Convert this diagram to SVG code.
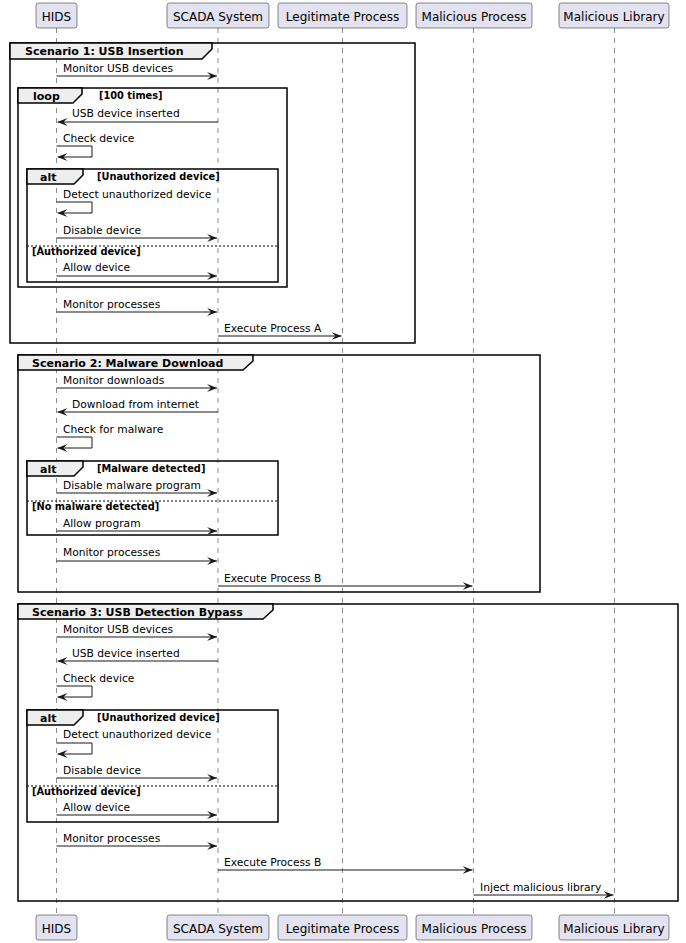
<svg xmlns="http://www.w3.org/2000/svg" width="686" height="943" viewBox="0 0 686 943">
<style>
text{font-family:"DejaVu Sans","Verdana",sans-serif;fill:#000}
.p{font-size:12px;text-anchor:middle}
.m{font-size:10.7px}
.fl{font-size:11px;font-weight:bold}
.g{font-size:9.8px;font-weight:bold}
.box{fill:#E2E2F0;stroke:#181818;stroke-width:0.5}
.life{stroke:#181818;stroke-width:0.5;stroke-dasharray:5,5}
.frame{fill:none;stroke:#000;stroke-width:1.5}
.tab{fill:#EEEEEE;stroke:#000;stroke-width:1.5}
.sep{stroke:#000;stroke-width:1;stroke-dasharray:2,2}
.msg{fill:none;stroke:#181818;stroke-width:1;marker-end:url(#ah)}
</style>
<defs>
<marker id="ah" viewBox="0 0 10 8" refX="10" refY="4" markerUnits="userSpaceOnUse" markerWidth="10" markerHeight="8" orient="auto">
<path d="M0,0 L10,4 L0,8 L4,4 Z" fill="#181818"/>
</marker>
</defs>
<g id="lifelines">
<line class="life" x1="56.5" y1="28" x2="56.5" y2="915"/>
<line class="life" x1="218" y1="28" x2="218" y2="915"/>
<line class="life" x1="342.5" y1="28" x2="342.5" y2="915"/>
<line class="life" x1="473.5" y1="28" x2="473.5" y2="915"/>
<line class="life" x1="614.5" y1="28" x2="614.5" y2="915"/>
</g>
<g id="p-hids-top"><rect class="box" x="36" y="3" width="41" height="25" rx="2.5"/><text class="p" x="56.5" y="20.5">HIDS</text></g>
<g id="p-scada-top"><rect class="box" x="167" y="3" width="102" height="25" rx="2.5"/><text class="p" x="218" y="20.5">SCADA System</text></g>
<g id="p-legit-top"><rect class="box" x="278" y="3" width="129" height="25" rx="2.5"/><text class="p" x="342.5" y="20.5">Legitimate Process</text></g>
<g id="p-malproc-top"><rect class="box" x="416" y="3" width="116" height="25" rx="2.5"/><text class="p" x="474" y="20.5">Malicious Process</text></g>
<g id="p-mallib-top"><rect class="box" x="559" y="3" width="110" height="25" rx="2.5"/><text class="p" x="614" y="20.5">Malicious Library</text></g>
<g id="p-hids-bottom"><rect class="box" x="36" y="915" width="41" height="25" rx="2.5"/><text class="p" x="56.5" y="932.5">HIDS</text></g>
<g id="p-scada-bottom"><rect class="box" x="167" y="915" width="102" height="25" rx="2.5"/><text class="p" x="218" y="932.5">SCADA System</text></g>
<g id="p-legit-bottom"><rect class="box" x="278" y="915" width="129" height="25" rx="2.5"/><text class="p" x="342.5" y="932.5">Legitimate Process</text></g>
<g id="p-malproc-bottom"><rect class="box" x="416" y="915" width="116" height="25" rx="2.5"/><text class="p" x="474" y="932.5">Malicious Process</text></g>
<g id="p-mallib-bottom"><rect class="box" x="559" y="915" width="110" height="25" rx="2.5"/><text class="p" x="614" y="932.5">Malicious Library</text></g>
<g id="frame-s1">
<rect class="frame" x="10" y="43" width="405" height="300"/>
<path class="tab" d="M10,43 H212 V49 L202,59 H10 Z"/>
<text class="fl" x="25" y="55">Scenario 1: USB Insertion</text>
</g>
<g id="frame-s1-loop">
<rect class="frame" x="18" y="88" width="269" height="199"/>
<path class="tab" d="M18,88 H82 V94 L73,103 H18 Z"/>
<text class="fl" x="33" y="100">loop</text>
<text class="g" x="99" y="99">[100 times]</text>
</g>
<g id="frame-s1-alt">
<rect class="frame" x="27" y="169" width="251" height="113"/>
<path class="tab" d="M27,169 H83 V175 L74,184 H27 Z"/>
<text class="fl" x="40" y="181">alt</text>
<text class="g" x="97" y="180">[Unauthorized device]</text>
<line class="sep" x1="27" y1="246" x2="278" y2="246"/>
<text class="g" x="32" y="255">[Authorized device]</text>
</g>
<g id="frame-s2">
<rect class="frame" x="18" y="355" width="522" height="237"/>
<path class="tab" d="M18,355 H253 V361 L243,370 H18 Z"/>
<text class="fl" x="32" y="367">Scenario 2: Malware Download</text>
</g>
<g id="frame-s2-alt">
<rect class="frame" x="27" y="461" width="251" height="74"/>
<path class="tab" d="M27,461 H83 V467 L74,476 H27 Z"/>
<text class="fl" x="40" y="473">alt</text>
<text class="g" x="97" y="472">[Malware detected]</text>
<line class="sep" x1="27" y1="501" x2="278" y2="501"/>
<text class="g" x="32" y="510">[No malware detected]</text>
</g>
<g id="frame-s3">
<rect class="frame" x="18" y="604" width="660" height="297"/>
<path class="tab" d="M18,604 H273 V610 L263,619 H18 Z"/>
<text class="fl" x="32" y="616">Scenario 3: USB Detection Bypass</text>
</g>
<g id="frame-s3-alt">
<rect class="frame" x="27" y="710" width="251" height="112"/>
<path class="tab" d="M27,710 H83 V716 L74,725 H27 Z"/>
<text class="fl" x="40" y="722">alt</text>
<text class="g" x="97" y="721">[Unauthorized device]</text>
<line class="sep" x1="27" y1="786" x2="278" y2="786"/>
<text class="g" x="32" y="795">[Authorized device]</text>
</g>
<g id="connectors">
<path class="msg" d="M56.5,76 H217"/><text class="m" x="63" y="72">Monitor USB devices</text>
<path class="msg" d="M218,122 H57.5"/><text class="m" x="72" y="117">USB device inserted</text>
<path class="msg" d="M56.5,146 H92 V157 H57.5"/><text class="m" x="63" y="142">Check device</text>
<path class="msg" d="M56.5,202 H92 V213 H57.5"/><text class="m" x="63" y="198">Detect unauthorized device</text>
<path class="msg" d="M56.5,238 H217"/><text class="m" x="63" y="234">Disable device</text>
<path class="msg" d="M56.5,276 H217"/><text class="m" x="63" y="271">Allow device</text>
<path class="msg" d="M56.5,312 H217"/><text class="m" x="63" y="308">Monitor processes</text>
<path class="msg" d="M218,336 H341.5"/><text class="m" x="224" y="332">Execute Process A</text>
<path class="msg" d="M56.5,388 H217"/><text class="m" x="63" y="384">Monitor downloads</text>
<path class="msg" d="M218,412 H57.5"/><text class="m" x="72" y="408">Download from internet</text>
<path class="msg" d="M56.5,437 H92 V448 H57.5"/><text class="m" x="63" y="433">Check for malware</text>
<path class="msg" d="M56.5,493 H217"/><text class="m" x="63" y="489">Disable malware program</text>
<path class="msg" d="M56.5,531 H217"/><text class="m" x="63" y="527">Allow program</text>
<path class="msg" d="M56.5,561 H217"/><text class="m" x="63" y="556">Monitor processes</text>
<path class="msg" d="M218,586 H472.5"/><text class="m" x="224" y="582">Execute Process B</text>
<path class="msg" d="M56.5,637 H217"/><text class="m" x="63" y="633">Monitor USB devices</text>
<path class="msg" d="M218,661 H57.5"/><text class="m" x="72" y="657">USB device inserted</text>
<path class="msg" d="M56.5,686 H92 V697 H57.5"/><text class="m" x="63" y="682">Check device</text>
<path class="msg" d="M56.5,743 H92 V754 H57.5"/><text class="m" x="63" y="738">Detect unauthorized device</text>
<path class="msg" d="M56.5,778 H217"/><text class="m" x="63" y="774">Disable device</text>
<path class="msg" d="M56.5,815 H217"/><text class="m" x="63" y="811">Allow device</text>
<path class="msg" d="M56.5,846 H217"/><text class="m" x="63" y="842">Monitor processes</text>
<path class="msg" d="M218,870 H472.5"/><text class="m" x="224" y="866">Execute Process B</text>
<path class="msg" d="M473.5,895 H613.5"/><text class="m" x="480" y="891">Inject malicious library</text>
</g>
</svg>
